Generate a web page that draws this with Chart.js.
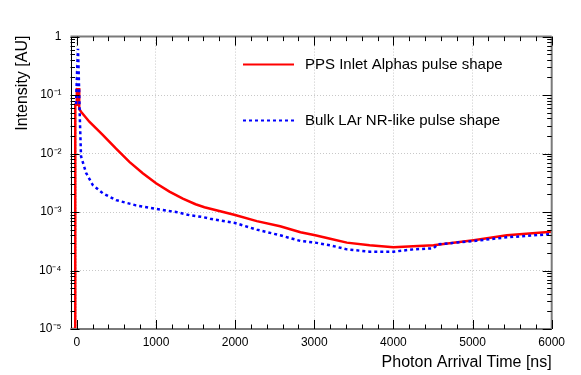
<!DOCTYPE html>
<html>
<head>
<meta charset="utf-8">
<script src="https://cdn.jsdelivr.net/npm/chart.js@4/dist/chart.umd.min.js"></script>
<style>
  html, body { margin: 0; padding: 0; background: #ffffff; }
  #wrap { width: 581px; height: 375px; }
</style>
</head>
<body>
<div id="wrap"><canvas id="c" width="581" height="375"></canvas></div>
<script>
// ---- data ----
const seriesNames = ['PPS Inlet Alphas pulse shape', 'Bulk LAr NR-like pulse shape'];

const ppsTime = [-80, -20, -20, 0, 0, 30, 30, 53, 158, 327, 496, 664, 833, 1001, 1170, 1339, 1500, 1612, 2000, 2274, 2569, 2826, 3012, 3201, 3412, 3700, 4001, 4250, 4507, 5013, 5435, 6000];
const ppsValue = [1e-5, 1e-5, 0.068, 0.068, 0.126, 0.126, 0.058, 0.052, 0.035, 0.0209, 0.0121, 0.0072, 0.0046, 0.0031, 0.00223, 0.00169, 0.00136, 0.00121, 0.00089, 0.0007, 0.00057, 0.00045, 0.0004, 0.00035, 0.0003, 0.00027, 0.00025, 0.00026, 0.00027, 0.00033, 0.0004, 0.00046];

const bulkTime = [-10, 5, 15, 25, 38, 53, 116, 201, 327, 496, 748, 1001, 1254, 1431, 1592, 1684, 2000, 2274, 2569, 2826, 3012, 3201, 3412, 3700, 4001, 4250, 4507, 4560, 5013, 5435, 6000];
const bulkValue = [0.07, 0.3, 0.62, 0.2, 0.04, 0.009, 0.0047, 0.0029, 0.0021, 0.0016, 0.0013, 0.00113, 0.001, 0.00088, 0.00082, 0.00077, 0.00065, 0.0005, 0.0004, 0.00032, 0.0003, 0.00027, 0.00023, 0.00021, 0.00021, 0.00023, 0.00024, 0.00028, 0.00032, 0.00037, 0.00042];

const xMajorTicks = [0, 1000, 2000, 3000, 4000, 5000, 6000];
const yMajorTicks = [1e-5, 1e-4, 1e-3, 1e-2, 1e-1, 1];
const yTickLabels = ['10\u207B\u2075', '10\u207B\u2074', '10\u207B\u00B3', '10\u207B\u00B2', '10\u207B\u00B9', '1'];
const xTitle = 'Photon Arrival Time [ns]';
const yTitle = 'Intensity [AU]';

// ---- build chart ----
const toPoints = (xs, ys) => xs.map((x, i) => ({ x: x, y: ys[i] }));
const FONT = '"Liberation Sans", Arial, Helvetica, sans-serif';

const framePlugin = {
  id: 'rootFrame',
  afterDatasetsDraw(chart) {
    const ctx = chart.ctx;
    const a = chart.chartArea;
    const xs = chart.scales.x, ys = chart.scales.y;
    ctx.save();
    // frame
    ctx.lineWidth = 1;
    ctx.strokeStyle = '#000000';
    ctx.beginPath();
    ctx.moveTo(Math.round(a.left) + 0.5, a.top);
    ctx.lineTo(Math.round(a.left) + 0.5, a.bottom);
    ctx.stroke();
    ctx.strokeStyle = '#7a7a7a';
    ctx.lineWidth = 2;
    ctx.beginPath();
    ctx.moveTo(a.left, a.bottom); ctx.lineTo(a.right, a.bottom);
    ctx.moveTo(a.left, a.top); ctx.lineTo(a.right, a.top);
    ctx.moveTo(a.right, a.top); ctx.lineTo(a.right, a.bottom);
    ctx.stroke();
    // ticks
    ctx.lineWidth = 1;
    ctx.strokeStyle = '#000000';
    ctx.beginPath();
    for (let t = 0; t <= 6000; t += 200) {
      const px = Math.round(xs.getPixelForValue(t)) + 0.5;
      const len = (t % 1000 === 0) ? 9 : 4.5;
      ctx.moveTo(px, a.bottom); ctx.lineTo(px, a.bottom - len);
      ctx.moveTo(px, a.top); ctx.lineTo(px, a.top + len);
    }
    for (let e = -5; e <= 0; e++) {
      for (let m = 1; m <= 9; m++) {
        const v = m * Math.pow(10, e);
        if (v > 1.0000001) break;
        const py = Math.round(ys.getPixelForValue(v)) + 0.5;
        const len = (m === 1) ? 9 : 4.5;
        ctx.moveTo(a.left, py); ctx.lineTo(a.left + len, py);
        ctx.moveTo(a.right, py); ctx.lineTo(a.right - len, py);
      }
    }
    ctx.stroke();

    // legend (no box), styles taken from the datasets
    const ds = chart.data.datasets;
    const legendY = [64.5, 120.5];
    ds.forEach((d, i) => {
      const y = legendY[i];
      ctx.save();
      ctx.strokeStyle = d.borderColor;
      ctx.lineWidth = 2;
      ctx.setLineDash(d.borderDash || []);
      ctx.beginPath();
      ctx.moveTo(243, y); ctx.lineTo(294, y);
      ctx.stroke();
      ctx.restore();
      ctx.fillStyle = '#000000';
      ctx.font = '15px ' + FONT;
      ctx.textAlign = 'left';
      ctx.textBaseline = 'middle';
      ctx.fillText(d.label, 305, y);
    });

    // axis titles (ROOT style, aligned to the axis end)
    ctx.fillStyle = '#000000';
    ctx.font = '16px ' + FONT;
    ctx.textAlign = 'right';
    ctx.textBaseline = 'alphabetic';
    ctx.fillText(xTitle, a.right, 367);
    ctx.save();
    ctx.translate(27, a.top - 1);
    ctx.rotate(-Math.PI / 2);
    ctx.textAlign = 'right';
    ctx.fillText(yTitle, 0, 0);
    ctx.restore();
    ctx.restore();
  }
};

new Chart(document.getElementById('c'), {
  type: 'line',
  data: {
    datasets: [
      {
        label: seriesNames[0],
        data: toPoints(ppsTime, ppsValue),
        borderColor: '#ff0000',
        borderWidth: 2.5,
        pointRadius: 0,
        tension: 0,
        fill: false,
        order: 1
      },
      {
        label: seriesNames[1],
        data: toPoints(bulkTime, bulkValue),
        borderColor: '#0000ff',
        borderWidth: 2.5,
        borderDash: [3, 3],
        borderCapStyle: 'butt',
        pointRadius: 0,
        tension: 0,
        fill: false,
        order: 0
      }
    ]
  },
  options: {
    responsive: false,
    animation: false,
    devicePixelRatio: 1,
    layout: { padding: { top: 36.6, right: 29.3, left: 0, bottom: 0 } },
    plugins: { legend: { display: false }, tooltip: { enabled: false } },
    scales: {
      x: {
        type: 'linear',
        min: -80,
        max: 6000,
        afterFit(s) { s.height = 46; },
        afterBuildTicks(s) { s.ticks = xMajorTicks.map(v => ({ value: v })); },
        grid: { color: '#c8c8c8', lineWidth: 1, drawTicks: false },
        border: { display: false, dash: [1, 2] },
        ticks: {
          padding: 6,
          color: '#000000',
          maxRotation: 0,
          autoSkip: false,
          font: { family: FONT, size: 12 },
          callback: (v) => String(v)
        }
      },
      y: {
        type: 'logarithmic',
        min: 1e-5,
        max: 1,
        afterFit(s) { s.width = 70.5; },
        afterBuildTicks(s) { s.ticks = yMajorTicks.map(v => ({ value: v })); },
        grid: { color: '#c8c8c8', lineWidth: 1, drawTicks: false },
        border: { display: false, dash: [1, 2] },
        ticks: {
          padding: 9,
          color: '#000000',
          autoSkip: false,
          font: { family: FONT, size: 12 },
          callback: (v) => {
            const i = yMajorTicks.findIndex(t => Math.abs(Math.log10(t) - Math.log10(v)) < 1e-6);
            return i >= 0 ? yTickLabels[i] : '';
          }
        }
      }
    }
  },
  plugins: [framePlugin]
});
</script>
</body>
</html>
